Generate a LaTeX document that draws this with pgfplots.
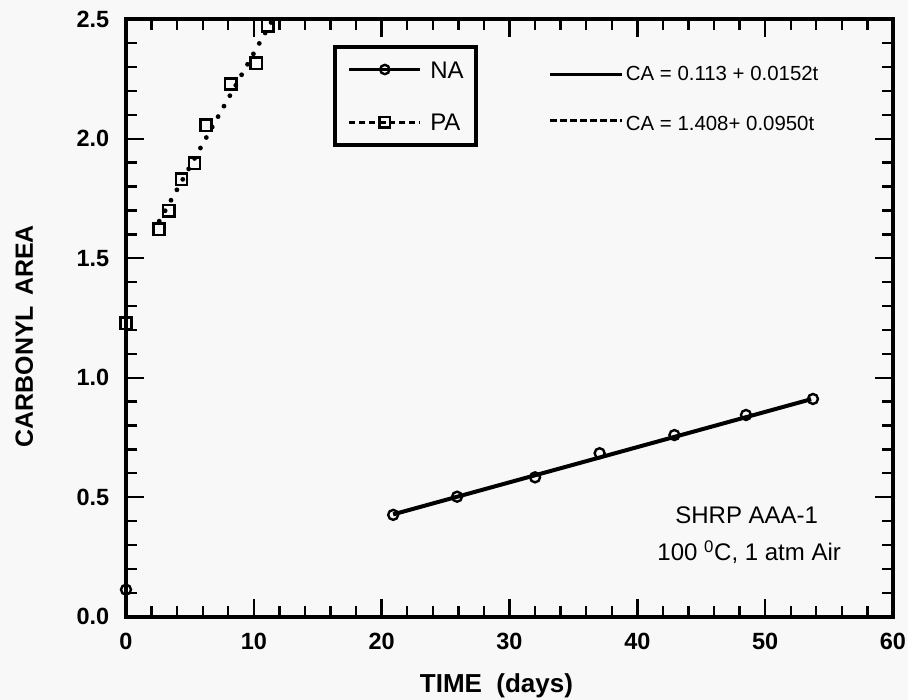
\documentclass[border=0pt]{standalone}
\usepackage{fontspec}
\setmainfont{Liberation Sans}
\usepackage{pgfplots}
\pgfplotsset{compat=1.18}
\definecolor{bg}{RGB}{248,248,248}
\begin{document}
\begin{tikzpicture}
\fill[bg] (0,0) rectangle (681pt,525pt);
\useasboundingbox (0,0) rectangle (681pt,525pt);
\begin{axis}[
  at={(94.5pt,62.5pt)}, anchor=south west,
  scale only axis, width=575.25pt, height=448.05pt,
  xmin=0, xmax=60, ymin=0, ymax=2.5,
  clip=false,
  xtick={0,10,...,60}, minor x tick num=4,
  ytick={0,0.5,1,1.5,2,2.5}, minor y tick num=4,
  tick align=inside,
  major tick length=13.5pt, minor tick length=8.25pt,
  every tick/.append style={line width=1.8pt, black},
  axis line style={line width=3pt},
  /pgf/number format/assume math mode=true,
  ticklabel style={font=\fontsize{17.6}{20}\selectfont\bfseries},
  yticklabel style={/pgf/number format/.cd, fixed, fixed zerofill, precision=1, /tikz/.cd, xshift=-9pt},
  xticklabel style={yshift=-8.6pt},
  xlabel={TIME\ \ (days)},
  ylabel={CARBONYL\hspace{0.4em}AREA},
  every axis x label/.style={at={(axis description cs:0.483,-0.1276)}, anchor=base, font=\fontsize{19.5}{22}\selectfont\bfseries},
  every axis y label/.style={at={(axis description cs:-0.1213,0.4694)}, anchor=base, rotate=90, font=\fontsize{18.7}{22}\selectfont\bfseries},
  legend image code/.code={\draw[mark repeat=2,mark phase=2,#1] plot coordinates {(0pt,0pt) (26.625pt,0pt) (53.25pt,0pt)};},
  legend cell align=left,
  legend style={at={(axis description cs:0.2705,0.9566)}, anchor=north west, draw=black, line width=2.5pt, fill=none,
    inner xsep=9.4pt, inner ysep=10.5pt, row sep=26.5pt, column sep=6.2pt,
    font=\fontsize{18}{21}\selectfont,
    nodes={inner sep=0pt, text height=13pt, text depth=0pt}},
]
% NA data
\addplot[only marks, mark=o, mark size=3.75pt, mark options={line width=1.8pt}, forget plot]
  coordinates {(0,0.113) (20.9,0.426) (25.9,0.502) (32.0,0.583) (37.05,0.684) (42.9,0.760) (48.5,0.844) (53.74,0.911)};
% NA fit line
\addplot[line width=3pt, forget plot] coordinates {(20.9,0.428) (53.6,0.910)};
% PA data
\addplot[only marks, mark=square, mark size=4.25pt, mark options={line width=1.8pt}, forget plot]
  coordinates {(0,1.228) (2.58,1.621) (3.36,1.699) (4.34,1.830) (5.35,1.897) (6.26,2.056) (8.19,2.229) (10.19,2.316) (11.1,2.472)};
% PA fit line
\addplot[line width=3.6pt, line cap=round, dash pattern=on 0pt off 9pt, forget plot]
  coordinates {(2.6,1.655) (11.49,2.5)};
% legend images
\addlegendimage{mark=o, solid, line width=2.5pt, mark size=3.5pt, mark options={solid, line width=1.8pt}}
\addlegendimage{mark=square, line width=2.5pt, dash pattern=on 4.5pt off 3pt, mark size=4pt, mark options={solid, line width=1.8pt}}
\legend{NA,PA}
% equation key
\draw[line width=2.5pt] (axis cs:33.17,2.270) -- (axis cs:38.78,2.270);
\draw[line width=2.5pt, dash pattern=on 5pt off 2.5pt] (axis cs:33.17,2.076) -- (axis cs:38.78,2.076);
\node[anchor=base west, inner sep=0pt, font=\fontsize{15.3}{18}\selectfont] at (axis cs:39.09,2.242) {CA = 0.113 + 0.0152t};
\node[anchor=base west, inner sep=0pt, font=\fontsize{15.3}{18}\selectfont] at (axis cs:39.09,2.033) {CA = 1.408+ 0.0950t};
% annotation
\node[anchor=base, inner sep=0pt, font=\fontsize{18}{21}\selectfont] at (axis cs:48.56,0.388) {SHRP AAA-1};
\node[anchor=base, inner sep=0pt, font=\fontsize{18}{21}\selectfont] at (axis cs:48.75,0.234) {100 \textsuperscript{0}C, 1 atm Air};
\end{axis}
\end{tikzpicture}
\end{document}
